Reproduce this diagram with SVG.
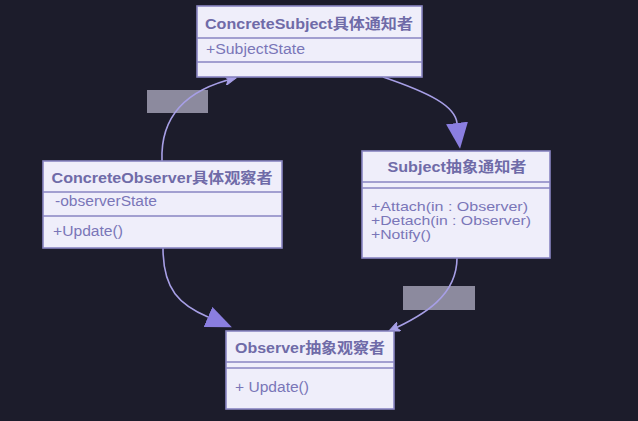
<svg xmlns="http://www.w3.org/2000/svg" width="638" height="421" viewBox="0 0 638 421">
<style>
.box{fill:#efeefa;stroke:#8985c2;stroke-width:1.6}
.div{stroke:#8985c2;stroke-width:1.4}
.t{font-family:"Liberation Sans","Noto Sans CJK SC",sans-serif;font-weight:bold;font-size:14.5px;fill:#6f6ba8}
.a{font-family:"Liberation Sans","Noto Sans CJK SC",sans-serif;font-size:14px;fill:#7a76b8}
.m{font-size:13px}
.c{fill:none;stroke:#a79fe6;stroke-width:1.6}
.lbl{fill:#8c8a9e}
</style>
<defs>
<marker id="tri" viewBox="0 0 26 22" refX="0" refY="11" markerWidth="26" markerHeight="22" markerUnits="userSpaceOnUse" orient="auto">
<path d="M0,0 L26,11 L0,22 z" fill="#8a7ee0"/>
</marker>
<marker id="open" viewBox="0 0 12 10" refX="11" refY="5" markerWidth="12" markerHeight="10" markerUnits="userSpaceOnUse" orient="auto">
<path d="M0,0 L11,5 L0,10 L3,5 z" fill="#a79fe6" stroke="#a79fe6" stroke-width="1"/>
</marker>
</defs>
<rect width="638" height="421" fill="#1c1c2b"/>
<rect class="lbl" x="147" y="90" width="61" height="23"/>
<rect class="lbl" x="403" y="286" width="72" height="24"/>
<g id="connectors">
<path class="c" d="M162,161 C160,112 192,88 236,78" marker-end="url(#open)"/>
<path class="c" d="M383,77 C430,93 455,106 457,123" marker-end="url(#tri)"/>
<path class="c" d="M163,248 C163,290 180,305 208,317" marker-end="url(#tri)"/>
<path class="c" d="M457,258 C457,295 425,315 389,331" marker-end="url(#open)"/>
</g>
<g id="concreteSubject">
<rect class="box" x="197" y="6" width="225" height="71"/>
<line class="div" x1="197" y1="38" x2="422" y2="38"/>
<line class="div" x1="197" y1="62" x2="422" y2="62"/>
<text class="t" x="309" y="29" text-anchor="middle" textLength="208" lengthAdjust="spacingAndGlyphs">ConcreteSubject具体通知者</text>
<text class="a" x="206" y="54" textLength="99" lengthAdjust="spacingAndGlyphs">+SubjectState</text>
</g>
<g id="concreteObserver">
<rect class="box" x="43" y="161" width="239" height="87"/>
<line class="div" x1="43" y1="192" x2="282" y2="192"/>
<line class="div" x1="43" y1="216" x2="282" y2="216"/>
<text class="t" x="162" y="183" text-anchor="middle" textLength="221" lengthAdjust="spacingAndGlyphs">ConcreteObserver具体观察者</text>
<text class="a" x="55" y="206" textLength="102" lengthAdjust="spacingAndGlyphs">-observerState</text>
<text class="a" x="53" y="236" textLength="70" lengthAdjust="spacingAndGlyphs">+Update()</text>
</g>
<g id="subject">
<rect class="box" x="362" y="151" width="188" height="107"/>
<line class="div" x1="362" y1="182" x2="550" y2="182"/>
<line class="div" x1="362" y1="188" x2="550" y2="188"/>
<text class="t" x="457" y="172" text-anchor="middle" textLength="139" lengthAdjust="spacingAndGlyphs">Subject抽象通知者</text>
<text class="a m" x="371" y="211" textLength="157" lengthAdjust="spacingAndGlyphs">+Attach(in : Observer)</text>
<text class="a m" x="371" y="225" textLength="160" lengthAdjust="spacingAndGlyphs">+Detach(in : Observer)</text>
<text class="a m" x="371" y="239" textLength="60" lengthAdjust="spacingAndGlyphs">+Notify()</text>
</g>
<g id="observer">
<rect class="box" x="226" y="331" width="168" height="78"/>
<line class="div" x1="226" y1="362" x2="394" y2="362"/>
<line class="div" x1="226" y1="368" x2="394" y2="368"/>
<text class="t" x="310" y="353" text-anchor="middle" textLength="150" lengthAdjust="spacingAndGlyphs">Observer抽象观察者</text>
<text class="a" x="235" y="392" textLength="74" lengthAdjust="spacingAndGlyphs">+ Update()</text>
</g>
</svg>
